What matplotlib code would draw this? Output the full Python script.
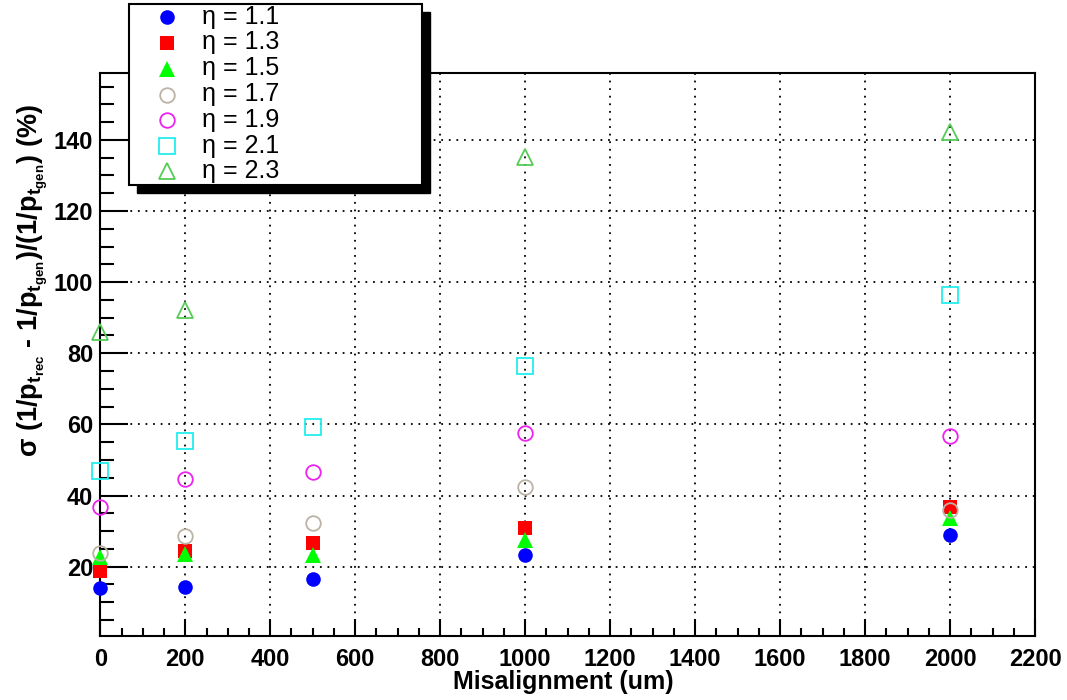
import matplotlib
matplotlib.use("Agg")
import matplotlib.pyplot as plt
from matplotlib.lines import Line2D
from matplotlib.patches import Rectangle
from matplotlib.ticker import MultipleLocator

plt.rcParams['font.family'] = ['Liberation Sans', 'DejaVu Sans']
plt.rcParams['mathtext.fontset'] = 'custom'
plt.rcParams['mathtext.rm'] = 'Liberation Sans:bold'
plt.rcParams['mathtext.it'] = 'Liberation Sans:bold'
plt.rcParams['mathtext.bf'] = 'Liberation Sans:bold'
plt.rcParams['mathtext.default'] = 'bf'

# ---- data ----
misalign = [0, 200, 500, 1000, 2000]
misalign_23 = [0, 200, 1000, 2000]
eta_11 = [13.9, 14.4, 16.5, 23.3, 29.0]
eta_13 = [18.9, 24.5, 26.6, 30.8, 36.7]
eta_15 = [22.6, 23.6, 23.3, 27.5, 33.6]
eta_17 = [23.9, 28.7, 32.2, 42.4, 35.8]
eta_19 = [36.9, 44.7, 46.6, 57.7, 56.7]
eta_21 = [46.8, 55.3, 59.3, 76.4, 96.4]
eta_23 = [86.0, 92.2, 135.3, 142.3]
labels = ["\u03b7 = 1.1", "\u03b7 = 1.3", "\u03b7 = 1.5", "\u03b7 = 1.7",
          "\u03b7 = 1.9", "\u03b7 = 2.1", "\u03b7 = 2.3"]
xticks = [0, 200, 400, 600, 800, 1000, 1200, 1400, 1600, 1800, 2000, 2200]
yticks = [20, 40, 60, 80, 100, 120, 140]

W, H = 1067, 700
fig = plt.figure(figsize=(W / 100, H / 100), dpi=100)
L, R, T, B = 100.3, 1035, 73, 636
ax = fig.add_axes([L / W, 1 - B / H, (R - L) / W, (B - T) / H])

styles = [
    dict(marker='o', color='#0000ff', ms=10.5, mfc='#0000ff', mec='#0000ff', mew=0),
    dict(marker='s', color='#ff0000', ms=10.5, mfc='#ff0000', mec='#ff0000', mew=0),
    dict(marker='^', color='#00ff00', ms=11.5, mfc='#00ff00', mec='#00ff00', mew=0),
    dict(marker='o', color='#bbb3a5', ms=10.5, mfc='none', mec='#bbb3a5', mew=1.3),
    dict(marker='o', color='#ee22ee', ms=10.5, mfc='none', mec='#ee22ee', mew=1.3),
    dict(marker='s', color='#22eeee', ms=11, mfc='none', mec='#22eeee', mew=1.3),
    dict(marker='^', color='#55cc55', ms=12, mfc='none', mec='#55cc55', mew=1.3),
]
series = [(misalign, eta_11), (misalign, eta_13), (misalign, eta_15),
          (misalign, eta_17), (misalign, eta_19), (misalign, eta_21),
          (misalign_23, eta_23)]
for (xs, ys), st in zip(series, styles):
    ax.plot(xs, ys, linestyle='none', clip_on=False, zorder=5, **st)

ax.set_xlim(0, 2200)
ax.set_ylim(0.5, 158.8)
ax.set_xticks(xticks)
ax.set_yticks(yticks)
ax.xaxis.set_minor_locator(MultipleLocator(50))
ax.yaxis.set_minor_locator(MultipleLocator(5))
ax.tick_params(axis='both', which='both', direction='in', top=False, right=False,
               width=1.5, labelsize=17)
ax.tick_params(axis='x', which='major', length=12, pad=9)
ax.tick_params(axis='x', which='minor', length=6)
ax.tick_params(axis='y', which='major', length=20, pad=5)
ax.tick_params(axis='y', which='minor', length=10)
for lab in ax.get_xticklabels() + ax.get_yticklabels():
    lab.set_fontweight('bold')
for s in ax.spines.values():
    s.set_linewidth(1.5)
ax.grid(True, which='major', color='black', linestyle=(0, (1, 3.2)), linewidth=1.3)
ax.set_axisbelow(True)

fig.text(563 / W, 1 - 682 / H, "Misalignment (um)", ha='center', va='center',
         fontsize=18, fontweight='bold')
fig.text(33 / W, 1 - 104 / H,
         r"$\sigma$ (1/p$_{t_{rec}}$ - 1/p$_{t_{gen}}$)/(1/p$_{t_{gen}}$) (%)",
         rotation=90, ha='center', va='top', fontsize=19.5, fontweight='bold')

# ---- legend (ROOT style box with shadow) ----
bx0, bx1, by0, by1 = 129, 422, 4, 185
off = 8
fig.add_artist(Rectangle(((bx0 + off) / W, 1 - (by1 + off) / H), (bx1 - bx0) / W,
                         (by1 - by0) / H, transform=fig.transFigure,
                         facecolor='black', edgecolor='black', zorder=20))
fig.add_artist(Rectangle((bx0 / W, 1 - by1 / H), (bx1 - bx0) / W, (by1 - by0) / H,
                         transform=fig.transFigure, facecolor='white',
                         edgecolor='black', linewidth=1.5, zorder=21))
row_y = [16.7, 42.5, 68.5, 94.5, 120, 145.5, 171]
for yy, lab, st in zip(row_y, labels, styles):
    fig.add_artist(Line2D([166.7 / W], [1 - yy / H], transform=fig.transFigure,
                          linestyle='none', zorder=22, **st))
    fig.text(202 / W, 1 - yy / H, lab, ha='left', va='center', fontsize=18,
             zorder=22)

fig.savefig("out.png", dpi=100)
